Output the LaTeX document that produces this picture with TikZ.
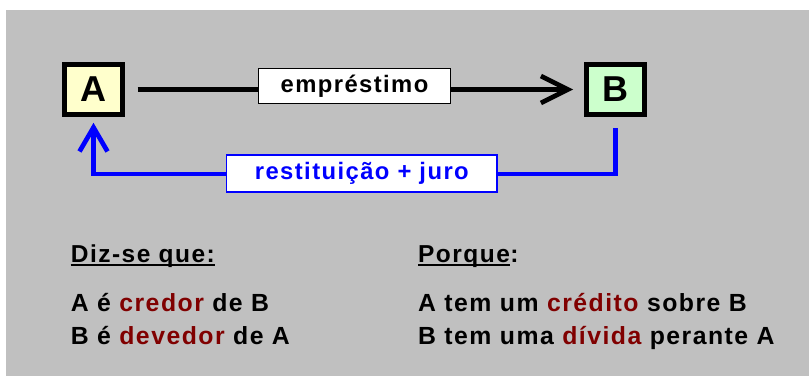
\documentclass[tikz,border=0pt]{standalone}
\usepackage{fontspec}
\setmainfont{Liberation Sans}[LetterSpace=6]
\usetikzlibrary{arrows.meta}
\definecolor{fundo}{HTML}{C0C0C0}
\definecolor{amarelo}{HTML}{FFFFCC}
\definecolor{verde}{HTML}{CCFFCC}
\definecolor{vermelho}{HTML}{800000}
\tikzset{
  caixa/.style={draw=black, line width=4.7pt, minimum width=58pt, minimum height=50.5pt,
    inner sep=0pt, font=\fontsize{36}{36}\selectfont\bfseries},
  rotulo/.style={draw, fill=white, line width=1.3pt, inner sep=0pt,
    font=\fontsize{23.8}{23.8}\selectfont\bfseries},
  texto/.style={anchor=base west, inner sep=0pt, font=\fontsize{24.8}{24.8}\selectfont\bfseries},
  titulo/.style={texto, font=\fontsize{24.5}{24.5}\selectfont\bfseries},
}
\newcommand{\verm}[1]{\textcolor{vermelho}{#1}}

\begin{document}
\begin{tikzpicture}[x=1pt, y=-1pt]
   \useasboundingbox (0,0) rectangle (809,376);
   \fill[fundo] (6,10) rectangle (809,376);
   \node[caixa, fill=amarelo] (A) at (93.5,89.5) {A};
   \node[caixa, fill=verde] (B) at (615.5,89.5) {B};
   \draw[line width=4.7pt, -{Straight Barb[length=27pt, width=27pt]}, shorten <=12.7pt, shorten >=11pt]
     (A.east) -- (B.west)
     node[rotulo, midway, yshift=3.5pt, minimum width=191.7pt, minimum height=34.7pt] (emp) {empréstimo};
   \coordinate (volta) at (0,174);
   \draw[blue, line width=4.7pt, -{Straight Barb[length=24pt, width=28pt]}, shorten <=11pt, shorten >=5.7pt]
     (B.south) -- (B.south |- volta) -| (A.south)
     node[rotulo, draw=blue, text=blue, pos=0.243, yshift=0.5pt, minimum width=270.4pt, minimum height=37.1pt] (rest) {restituição + juro};
   \node[titulo] (diz) at (70.7,262) {Diz-se que:};
   \draw[line width=2pt] ([yshift=-2.5pt]diz.base west) -- ([yshift=-2.5pt]diz.base east);
   \node[titulo] (porque) at (418,262) {Porque};
   \node[titulo] (dois) at (porque.base east) {:};
   \draw[line width=2pt] ([yshift=-2.5pt]porque.base west) -- ([yshift=-2.5pt]porque.base east);
   \node[texto] (credor) at (70.7,311) {A é \verm{credor} de B};
   \node[texto] (devedor) at (70.7,344) {B é \verm{devedor} de A};
   \node[texto] (credito) at (418,311) {A tem um \verm{crédito} sobre B};
   \node[texto] (divida) at (418,344) {B tem uma \verm{dívida} perante A};
  \end{tikzpicture}
\end{document}
